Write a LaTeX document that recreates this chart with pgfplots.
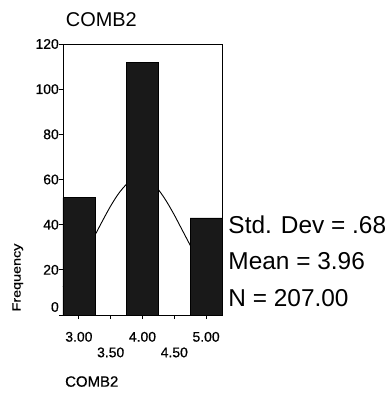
\documentclass[border=0pt]{standalone}
\usepackage{pgfplots}
\pgfplotsset{compat=1.18}
\usepackage{fontspec}
\setmainfont{Liberation Sans}
\newfontfamily\heavy{Liberation Sans}[FakeBold=0.6]
\begin{document}
\begin{tikzpicture}[x=1bp,y=1bp]
\path[use as bounding box] (-63,-89) rectangle (325,315);
\begin{axis}[at={(0,0)}, anchor=south west, scale only axis,
  width=159bp, height=271bp,
  xmin=2.75, xmax=5.25, ymin=0, ymax=120,
  xtick={3,4,5}, xticklabels={3.00,4.00,5.00},
  extra x ticks={3.5,4.5}, extra x tick labels={3.50,4.50},
  extra x tick style={xticklabel style={yshift=-15.6bp}},
  ytick={20,40,...,120},
  extra y ticks={0},
  extra y tick style={yticklabel style={yshift=8bp}},
  tick align=outside, major tick length=4bp,
  xtick pos=bottom, ytick pos=left,
  tick style={black, line width=0.8bp},
  axis line style={line width=0.8bp},
  tick label style={font=\heavy\fontsize{14}{14}\selectfont},
  yticklabel style={inner sep=0pt},
  xticklabel style={inner sep=0pt, yshift=-12.7bp},
  /pgf/number format/assume math mode=true,
]
\addplot[black, line width=0.9bp, smooth] coordinates {
(2.75,12.5) (2.875,17.0) (3.0,22.4) (3.125,28.6) (3.25,35.2) (3.375,41.9)
(3.5,48.3) (3.625,53.8) (3.75,57.9) (3.875,60.2) (4.0,60.6) (4.125,59.0)
(4.25,55.5) (4.375,50.4) (4.5,44.3) (4.625,37.6) (4.75,30.9) (4.875,24.5)
(5.0,18.9) (5.125,14.0) (5.25,10.0)};
\addplot[ybar, bar width=0.5, fill=black!90, draw=black] coordinates {(3,52) (4,112) (5,43)};
\end{axis}
\node[anchor=base west, inner sep=0pt, font=\fontsize{20}{20}\selectfont] at (2.7,289) {COMB2};
\node[anchor=base west, inner sep=0pt, font=\fontsize{24.5}{24.5}\selectfont] at (165.3,81.7) {Std. Dev = .68};
\node[anchor=base west, inner sep=0pt, font=\fontsize{24.5}{24.5}\selectfont] at (165.3,45.7) {Mean = 3.96};
\node[anchor=base west, inner sep=0pt, font=\fontsize{24.5}{24.5}\selectfont] at (165.3,9) {N = 207.00};
\node[rotate=90, anchor=base, inner sep=0pt, font=\heavy\fontsize{12}{12}\selectfont] at (-42.4,37.5) {\scalebox{1.2}[1]{Frequency}};
\node[anchor=base west, inner sep=0pt, font=\heavy\fontsize{15}{15}\selectfont] at (2,-71.7) {COMB2};
\end{tikzpicture}
\end{document}
